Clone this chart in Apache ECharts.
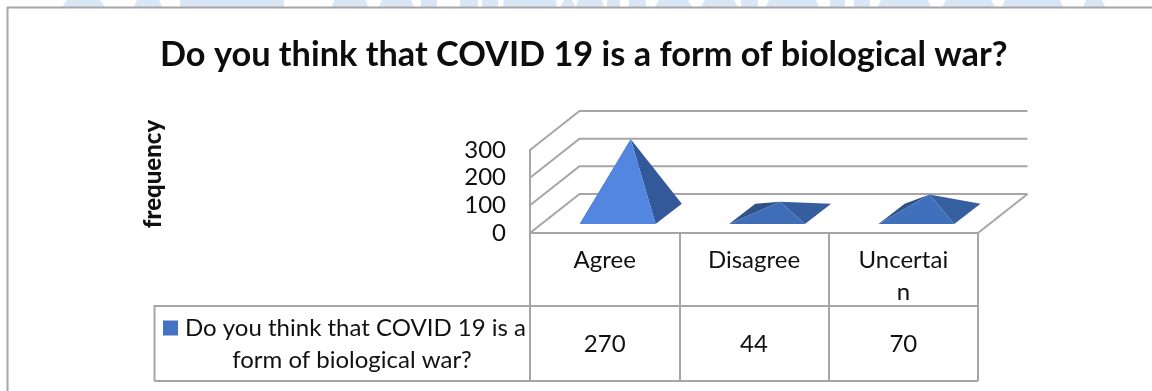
<!DOCTYPE html>
<html>
<head>
<meta charset="utf-8">
<style>html,body{margin:0;padding:0;background:#fff}#chart{width:1152px;height:391px}</style>
<script src="https://cdn.jsdelivr.net/npm/echarts@6/dist/echarts.min.js"></script>
</head>
<body>
<div id="chart"></div>
<script>
const chartTitle = 'Do you think that COVID 19 is a form of biological war?';
const axisName = 'frequency';
const categories = ['Agree', 'Disagree', 'Uncertai\nn'];
const responses = [270, 44, 70];
const valueTicks = [0, 100, 200, 300];
const seriesName = 'Do you think that COVID 19 is a';
const seriesNameLine2 = 'form of biological war?';
const frontColours = ['#5286E0', '#3F6DB8', '#4070BC'];
const sideColours = ['#34599B', '#365E9F', '#365F9F'];
const backColours = ['#2F5389', '#2F5389', '#2F5389'];
const bannerSpans = [[62,105,5],[134,162,3],[180,284,0],[332,368,2],[379,414,3],[421,437,0],[460,478,0],[482,498,0],[503,557,1],
  [560,576,4],[576,604,2],[607,620,0],[629,646,0],[655,692,4],[701,738,4],[741,758,0],[766,819,3],[830,845,0],[854,870,0],
  [878,931,3],[942,995,4],[1002,1063,3],[1083,1105,3]];

const FONT = 'Lato';
const LINE = '#A6A6A6';
const LINE_W = 2;
const TEXT = '#111';
const DEPTH = [49.5, -39];

function lineEl(points, width) {
  return { type: 'polyline', shape: { points }, silent: true,
    style: { stroke: LINE, lineWidth: width || LINE_W, fill: null } };
}
function poly(points, fill) {
  return { type: 'polygon', shape: { points }, style: { fill } };
}

// Floor, walls and their gridlines are projected from the value axis.
function renderWall(params, api) {
  const cs = params.coordSys;
  const y = api.coord([0, api.value(0)])[1];
  const kids = [
    lineEl([[cs.x, y], [cs.x + DEPTH[0], y + DEPTH[1]], [cs.x + cs.width + DEPTH[0], y + DEPTH[1]]])
  ];
  if (api.value(0) === 0) {
    kids.push(lineEl([[cs.x + cs.width, y], [cs.x + cs.width + DEPTH[0], y + DEPTH[1]]]));
  }
  return { type: 'group', children: kids };
}

// One pyramid per category, standing on the floor; the apex height comes from the value scale.
function renderPyramid(params, api) {
  const i = api.value(0);
  const v = api.value(1);
  const centre = api.coord([i, 0]);
  const band = api.size([1, 0])[0];
  const half = band * 0.254;
  const floorY = centre[1] - 9;
  const dx = DEPTH[0] * 0.53, dy = DEPTH[1] * 0.52;
  const xl = centre[0] + 13 - half;
  const xr = centre[0] + 13 + half;
  const fl = [xl, floorY], fr = [xr, floorY];
  const br = [xr + dx, floorY + dy], bl = [xl + dx, floorY + dy];
  const apexY = api.coord([i, v])[1] - (centre[1] - floorY) + dy / 2;
  const apex = [(xl + xr + dx) / 2, apexY];
  return {
    type: 'group',
    children: [
      poly([fl, bl, apex], backColours[i]),
      poly([fr, br, apex], sideColours[i]),
      poly([fl, fr, apex], frontColours[i])
    ]
  };
}

// Values printed in the data table row below each category.
function renderCell(params, api) {
  return {
    type: 'text',
    style: {
      text: String(api.value(1)), x: api.coord([api.value(0), 0])[0], y: 344,
      align: 'center', verticalAlign: 'middle',
      font: '24px ' + FONT, fill: TEXT
    }
  };
}

const banner = bannerSpans.map(([a, b, slope]) => ({
  type: 'polygon', silent: true,
  shape: { points: [[a, 7], [a + slope, 0], [b - slope, 0], [b, 7]] },
  style: { fill: '#D9E6F5' }
}));

const chart = echarts.init(document.getElementById('chart'));
chart.setOption({
  animation: false,
  backgroundColor: '#fff',
  title: {
    text: chartTitle, left: 155, top: 33,
    textStyle: { fontFamily: FONT, fontWeight: 'bold', fontSize: 34.3, color: '#0d0d0d' }
  },
  grid: { left: 530, top: 150, width: 448, height: 83, containLabel: false },
  legend: {
    left: 158, top: 311, orient: 'vertical', itemWidth: 15, itemHeight: 15, itemGap: 0,
    icon: 'rect', data: [seriesName], selectedMode: false,
    textStyle: { fontFamily: FONT, fontSize: 24, color: TEXT, padding: [0, 0, 0, 2] }
  },
  xAxis: {
    type: 'category', data: categories, boundaryGap: true,
    axisLine: { lineStyle: { color: LINE, width: LINE_W } },
    axisTick: { show: true, length: 148, lineStyle: { color: LINE, width: LINE_W } },
    axisLabel: { fontFamily: FONT, fontSize: 24, color: TEXT, margin: 11, lineHeight: 32, interval: 0 }
  },
  yAxis: {
    type: 'value', min: 0, max: 300, interval: 100,
    axisLine: { show: true, lineStyle: { color: LINE, width: LINE_W } },
    axisTick: { show: false }, splitLine: { show: false },
    axisLabel: { fontFamily: FONT, fontSize: 24, color: TEXT, margin: 24, padding: [3, 0, 0, 0] }
  },
  series: [
    { type: 'custom', name: 'walls', silent: true, z: 1, coordinateSystem: 'cartesian2d',
      encode: { y: 0 }, data: valueTicks.map(t => [t]), renderItem: renderWall },
    { type: 'custom', name: seriesName, z: 3, coordinateSystem: 'cartesian2d',
      itemStyle: { color: '#4472C4' }, encode: { x: 0, y: 1 },
      data: responses.map((v, i) => [i, v]), renderItem: renderPyramid },
    { type: 'custom', name: 'cells', silent: true, z: 3, coordinateSystem: 'cartesian2d',
      encode: { x: 0, y: 1 }, data: responses.map((v, i) => [i, v]), renderItem: renderCell }
  ],
  graphic: [
    ...banner,
    lineEl([[7.5, 391], [7.5, 7.5], [1152, 7.5]]),
    lineEl([[154.5, 381], [154.5, 306], [978, 306]]),
    lineEl([[154.5, 381], [978, 381]]),
    { type: 'text', x: 352, y: 360, silent: true,
      style: { text: seriesNameLine2, align: 'center', verticalAlign: 'middle',
        fontFamily: FONT, fontSize: 24, fill: TEXT } },
    { type: 'text', x: 153, y: 174, rotation: Math.PI / 2, silent: true,
      style: { text: axisName, align: 'center', verticalAlign: 'middle',
        fontFamily: FONT, fontWeight: 900, fontSize: 24, fill: TEXT } }
  ]
});
</script>
</body>
</html>
